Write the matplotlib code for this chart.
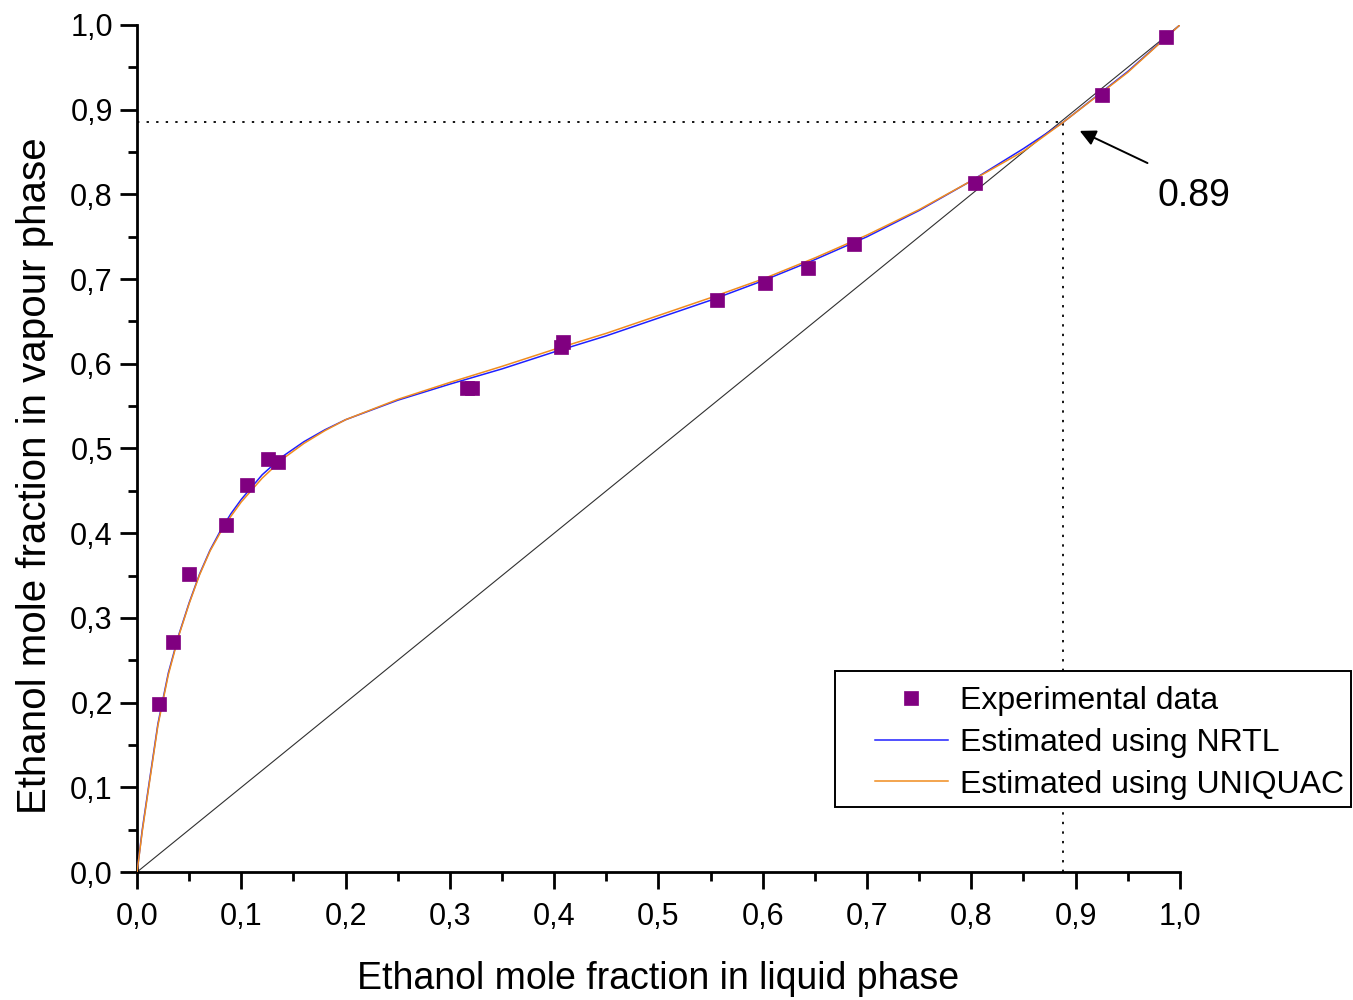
import matplotlib
matplotlib.use("Agg")
import matplotlib.pyplot as plt
from matplotlib.patches import Rectangle
from matplotlib.ticker import MultipleLocator, FuncFormatter

plt.rcParams['font.family'] = ['Liberation Sans', 'DejaVu Sans']

# Experimental VLE data (ethanol mole fractions)
x_exp = [0.021, 0.034, 0.050, 0.085, 0.105, 0.126, 0.135, 0.316, 0.321,
         0.407, 0.408, 0.556, 0.602, 0.643, 0.688, 0.804, 0.925, 0.987]
y_exp = [0.198, 0.272, 0.352, 0.410, 0.457, 0.488, 0.484, 0.571, 0.571,
         0.620, 0.626, 0.675, 0.695, 0.713, 0.741, 0.813, 0.917, 0.986]

# Model curves
x_model = [0.0, 0.005, 0.01, 0.02, 0.03, 0.04, 0.05, 0.06, 0.07, 0.08, 0.09,
           0.10, 0.12, 0.14, 0.16, 0.18, 0.20, 0.25, 0.30, 0.35, 0.40, 0.45,
           0.50, 0.55, 0.60, 0.65, 0.70, 0.75, 0.80, 0.85, 0.888, 0.95, 1.0]
y_nrtl = [0.0, 0.050, 0.092, 0.175, 0.235, 0.280, 0.318, 0.352, 0.380, 0.403,
          0.423, 0.440, 0.469, 0.491, 0.508, 0.522, 0.534, 0.557, 0.576, 0.594,
          0.614, 0.633, 0.654, 0.675, 0.698, 0.723, 0.750, 0.781, 0.816, 0.854,
          0.885, 0.945, 1.0]
y_uniquac = [0.0, 0.048, 0.090, 0.173, 0.233, 0.279, 0.317, 0.351, 0.379, 0.401,
             0.420, 0.437, 0.465, 0.488, 0.506, 0.521, 0.534, 0.558, 0.578, 0.597,
             0.617, 0.636, 0.657, 0.678, 0.700, 0.725, 0.752, 0.782, 0.816, 0.851,
             0.885, 0.944, 1.0]

azeo_x = 0.888
azeo_y = 0.885
azeo_label = "0.89"

fig = plt.figure(figsize=(13.53, 10.0), dpi=100)
ax = fig.add_axes([0.1013, 0.128, 0.7707, 0.847])

# 45-degree reference line
ax.plot([0, 1], [0, 1], color='#303030', lw=0.8, zorder=2)

ax.plot(x_model, y_nrtl, color='#2020ff', lw=1.1, label='Estimated using NRTL', zorder=3)
ax.plot(x_model, y_uniquac, color='#f08c1e', lw=1.1, label='Estimated using UNIQUAC', zorder=3)
ax.plot(x_exp, y_exp, 's', color='#800080', ms=10, mec='#800080', mew=0.5,
        label='Experimental data', zorder=4)

# Azeotrope guides
ax.plot([0, azeo_x], [azeo_y, azeo_y], color='black', lw=1.3, ls=(0, (1.3, 4)), zorder=2)
ax.plot([azeo_x, azeo_x], [0, azeo_y], color='black', lw=1.3, ls=(0, (1.3, 4)), zorder=2)

ax.annotate('', xy=(0.904, 0.875), xytext=(0.969, 0.837),
            arrowprops=dict(arrowstyle='-|>', color='black', lw=1.4,
                            mutation_scale=24, shrinkA=0, shrinkB=0))
ax.text(1.014, 0.798, azeo_label, fontsize=27, ha='center', va='center')

ax.set_xlim(0, 1)
ax.set_ylim(0, 1)
for s in ['top', 'right']:
    ax.spines[s].set_visible(False)
for s in ['left', 'bottom']:
    ax.spines[s].set_linewidth(2.0)

ax.xaxis.set_major_locator(MultipleLocator(0.1))
ax.xaxis.set_minor_locator(MultipleLocator(0.05))
ax.yaxis.set_major_locator(MultipleLocator(0.1))
ax.yaxis.set_minor_locator(MultipleLocator(0.05))
comma = FuncFormatter(lambda v, p: f"{v:.1f}".replace('.', ','))
ax.xaxis.set_major_formatter(comma)
ax.yaxis.set_major_formatter(comma)
ax.tick_params(which='major', direction='out', length=12, width=2, labelsize=22)
ax.tick_params(which='minor', direction='out', length=6.5, width=2)
ax.tick_params(axis='x', which='major', pad=9.5)
ax.tick_params(axis='y', which='major', pad=5.5)

ax.set_xlabel('Ethanol mole fraction in liquid phase', fontsize=27)
ax.set_ylabel('Ethanol mole fraction in vapour phase', fontsize=29)
ax.xaxis.set_label_coords(0.5, -0.105)
ax.yaxis.set_label_coords(-0.0796, 0.4675)

# Legend with a hand-placed white frame (drawn above the guide lines)
ax.add_patch(Rectangle((835 / 1353, 1 - 807 / 1000), 516 / 1353, 136 / 1000,
                       transform=fig.transFigure, facecolor='white',
                       edgecolor='black', lw=1.4, zorder=4.5, clip_on=False))
handles, labels = ax.get_legend_handles_labels()
order = [2, 0, 1]
leg = ax.legend([handles[i] for i in order], [labels[i] for i in order],
                loc='center left', bbox_to_anchor=(875 / 1353, 0.257),
                bbox_transform=fig.transFigure, fontsize=23, frameon=False,
                handlelength=2.28, labelspacing=0.36, borderpad=0,
                handletextpad=0.375, borderaxespad=0, numpoints=1)
leg.set_zorder(6)

fig.savefig('out.png', dpi=100, facecolor='white')
